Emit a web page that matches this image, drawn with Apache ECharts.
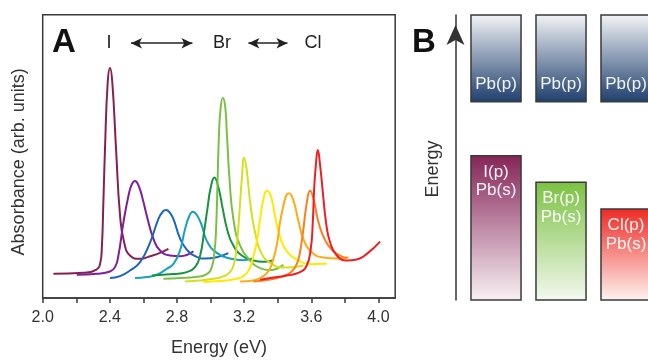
<!DOCTYPE html>
<html><head><meta charset="utf-8">
<script src="https://cdn.jsdelivr.net/npm/echarts@6/dist/echarts.min.js"></script>
<style>html,body{margin:0;padding:0;background:#fff}#c{width:648px;height:362px}</style>
</head><body><div id="c"></div>
<script>
const FONT = '"Liberation Sans", Arial, Helvetica, sans-serif';

// ---- Panel A data: absorbance spectra, [energy (eV), absorbance (arb. units)] ----
const xTickValues = [2.0, 2.2, 2.4, 2.6, 2.8, 3.0, 3.2, 3.4, 3.6, 3.8, 4.0];
const xLabelValues = [2.0, 2.4, 2.8, 3.2, 3.6, 4.0];
const curve1 = [[2.064,73],[2.242,76],[2.322,86],[2.342,103],[2.352,148],[2.362,298],[2.371,448],[2.387,648],[2.401,693],[2.415,648],[2.437,448],[2.461,248],[2.485,168],[2.520,128],[2.580,118],[2.640,126],[2.699,136],[2.749,148]];
const curve2 = [[2.203,70],[2.322,73],[2.401,80],[2.431,93],[2.451,128],[2.481,228],[2.511,308],[2.530,342],[2.550,353],[2.570,340],[2.596,298],[2.620,248],[2.660,178],[2.699,143],[2.759,128],[2.818,126],[2.898,141]];
const curve3 = [[2.401,60],[2.461,66],[2.520,83],[2.580,108],[2.640,168],[2.689,238],[2.715,260],[2.735,265],[2.759,256],[2.779,238],[2.818,180],[2.858,146],[2.908,126],[2.967,119],[3.037,123],[3.106,135]];
const curve4 = [[2.550,60],[2.620,63],[2.679,70],[2.739,88],[2.779,103],[2.818,143],[2.848,208],[2.874,248],[2.894,260],[2.918,250],[2.948,218],[2.977,173],[3.037,136],[3.116,119],[3.196,114],[3.255,120]];
const curve5 = [[2.650,68],[2.779,72],[2.858,78],[2.908,93],[2.938,128],[2.961,198],[2.981,268],[3.001,333],[3.023,363],[3.047,333],[3.073,268],[3.101,203],[3.136,158],[3.186,128],[3.255,113],[3.315,109],[3.375,114]];
const curve6 = [[2.719,58],[2.818,60],[2.918,64],[2.977,72],[3.007,93],[3.023,138],[3.033,208],[3.041,338],[3.049,478],[3.059,568],[3.073,603],[3.087,578],[3.097,498],[3.113,358],[3.136,238],[3.176,158],[3.236,113],[3.295,90],[3.355,84],[3.434,100]];
const curve7 = [[2.848,50],[2.938,53],[3.017,58],[3.077,65],[3.116,78],[3.140,103],[3.156,158],[3.172,258],[3.186,358],[3.200,423],[3.216,383],[3.236,288],[3.265,198],[3.305,133],[3.365,103],[3.434,92],[3.494,93],[3.553,98]];
const curve8 = [[2.957,48],[3.057,51],[3.136,56],[3.196,66],[3.232,88],[3.251,118],[3.275,168],[3.295,238],[3.315,298],[3.335,323],[3.359,308],[3.384,248],[3.418,178],[3.458,138],[3.514,116],[3.593,102],[3.693,103]];
const curve9 = [[3.176,50],[3.255,53],[3.315,66],[3.351,86],[3.371,113],[3.394,158],[3.414,228],[3.434,278],[3.450,308],[3.466,316],[3.494,293],[3.523,233],[3.553,178],[3.603,138],[3.673,122],[3.752,119],[3.822,123]];
const curve10 = [[3.255,50],[3.355,56],[3.434,66],[3.484,80],[3.514,103],[3.533,138],[3.553,208],[3.573,286],[3.593,323],[3.613,300],[3.633,250],[3.662,198],[3.702,158],[3.752,133],[3.812,120]];
const curve11 = [[3.295,55],[3.355,60],[3.454,68],[3.533,78],[3.573,98],[3.597,148],[3.609,228],[3.617,328],[3.627,398],[3.639,446],[3.653,398],[3.669,318],[3.688,228],[3.712,168],[3.752,128],[3.812,113],[3.871,116],[3.931,133],[4.010,170]];
const curves = [curve1, curve2, curve3, curve4, curve5, curve6, curve7, curve8, curve9, curve10, curve11];
const curveColors = ['#84214f','#7c1f9e','#1c64c0','#19a0bd','#17933f','#79c143','#d5df1d','#ffea00','#ffab14','#f9801f','#ee1f24'];
const halideArrows = [[[2.526,768],[2.892,768]], [[3.2255,768],[3.458,768]]];

// ---- Panel B data: energy-level boxes (arbitrary energy units) ----
const bandCategories = ['I', 'Br', 'Cl'];
const valenceBottom = [0, 0, 0];
const valenceTop = [50.6, 41.3, 31.9];
const conductionBottom = [69.6, 69.6, 69.6];
const conductionTop = [100, 100, 100];
const valenceLabels = ['I(p)\nPb(s)', 'Br(p)\nPb(s)', 'Cl(p)\nPb(s)'];
const conductionLabels = ['Pb(p)', 'Pb(p)', 'Pb(p)'];
const valenceColors = [['#852457','#f8f1f4'], ['#7bc142','#f4f9f0'], ['#ee2a24','#fef4ef']];
const conductionColors = [['#f4f4f7','#1d3e6c'], ['#f4f4f7','#1d3e6c'], ['#f4f4f7','#1d3e6c']];

const chart = echarts.init(document.getElementById('c'), null, {renderer: 'canvas'});

function boxRenderer(colors, labels, isValence) {
  return function (params, api) {
    const i = params.dataIndex;
    const pTop = api.coord([api.value(0), api.value(2)]);
    const pBot = api.coord([api.value(0), api.value(1)]);
    const w = api.size([1, 0])[0] * 0.77;
    const x = pTop[0] - w / 2;
    const grad = new echarts.graphic.LinearGradient(0, 0, 0, 1, [
      {offset: 0, color: colors[i][0]}, {offset: 1, color: colors[i][1]}]);
    return {type: 'group', children: [{
      type: 'rect',
      shape: {x: x, y: pTop[1], width: w, height: pBot[1] - pTop[1]},
      style: {fill: grad, stroke: '#3a3a3a', lineWidth: 1.5}
    }, {
      type: 'text',
      style: {
        text: labels[i],
        x: pTop[0],
        y: isValence ? pTop[1] + 7 : pBot[1] - 17,
        align: 'center',
        verticalAlign: isValence ? 'top' : 'middle',
        lineHeight: 18.5,
        fill: 'rgba(255,255,255,0.93)',
        font: '17px ' + FONT
      }
    }]};
  };
}

const lineSeries = curves.map((d, k) => ({
  type: 'line',
  xAxisIndex: 0, yAxisIndex: 0,
  data: d,
  showSymbol: false,
  smooth: 0.5,
  lineStyle: {color: curveColors[k], width: 2},
  silent: true,
  z: 2 + k
}));

lineSeries.push({
  type: 'line', xAxisIndex: 0, yAxisIndex: 0, data: [], silent: true,
  markLine: {
    silent: true,
    symbol: ['arrow', 'arrow'],
    symbolSize: [8, 11],
    label: {show: false},
    lineStyle: {color: '#222', width: 1.5, type: 'solid'},
    emphasis: {disabled: true},
    data: halideArrows.map(a => [{coord: a[0]}, {coord: a[1]}])
  }
});

const option = {
  animation: false,
  backgroundColor: '#fff',
  textStyle: {fontFamily: FONT},
  grid: [
    {left: 42.7, top: 14.7, width: 352.5, height: 284.6, show: true, borderColor: '#3a3a3a', borderWidth: 1.5, backgroundColor: 'transparent'},
    {left: 463.5, top: 15, right: 0, height: 285, show: false}
  ],
  xAxis: [
    {
      gridIndex: 0, type: 'value', min: 2.0, max: 4.1, interval: 0.2,
      name: 'Energy (eV)', nameLocation: 'middle', nameGap: 41,
      nameTextStyle: {fontSize: 18, color: '#333', fontFamily: FONT},
      axisLine: {show: true, lineStyle: {color: '#3a3a3a', width: 1.5}},
      axisTick: {show: true, inside: false, length: 5, lineStyle: {color: '#3a3a3a', width: 1.5}, customValues: xTickValues},
      axisLabel: {show: true, margin: 12, fontSize: 16, color: '#333', fontFamily: FONT, customValues: xLabelValues,
        formatter: v => v.toFixed(1)},
      splitLine: {show: false}
    },
    {
      // 65 px per band: grid width 184.5 px spans 184.5/65 = 2.838 bands
      gridIndex: 1, type: 'value', min: -0.5, max: 2.338, show: false
    }
  ],
  yAxis: [
    {
      gridIndex: 0, type: 'value', min: 0, max: 854,
      name: 'Absorbance (arb. units)', nameLocation: 'middle', nameGap: 15,
      nameTextStyle: {fontSize: 18, color: '#333', fontFamily: FONT, padding: [0, 11, 0, 0]},
      axisLine: {show: false}, axisTick: {show: false}, axisLabel: {show: false}, splitLine: {show: false}
    },
    {
      gridIndex: 1, type: 'value', min: 0, max: 100, offset: 8, position: 'left',
      name: 'Energy', nameLocation: 'middle', nameGap: 13,
      nameTextStyle: {fontSize: 18, color: '#333', fontFamily: FONT, padding: [0, 23, 0, 0]},
      axisLine: {show: true, onZero: false, symbol: ['none', 'arrow'], symbolSize: [13.5, 20], symbolOffset: [0, -10],
        lineStyle: {color: '#333', width: 1.5}},
      axisTick: {show: false}, axisLabel: {show: false}, splitLine: {show: false}
    }
  ],
  graphic: [
    {type: 'text', left: 52, top: 26, style: {text: 'A', font: 'bold 33px ' + FONT, fill: '#111'}},
    {type: 'text', left: 412, top: 26, style: {text: 'B', font: 'bold 33px ' + FONT, fill: '#111'}},
    {type: 'text', x: 109, y: 43, style: {text: 'I', font: '18px ' + FONT, fill: '#222', align: 'center', verticalAlign: 'middle'}},
    {type: 'text', x: 222, y: 43, style: {text: 'Br', font: '18px ' + FONT, fill: '#222', align: 'center', verticalAlign: 'middle'}},
    {type: 'text', x: 313, y: 43, style: {text: 'Cl', font: '18px ' + FONT, fill: '#222', align: 'center', verticalAlign: 'middle'}}
  ],
  series: lineSeries.concat([
    {
      type: 'custom', xAxisIndex: 1, yAxisIndex: 1, silent: true,
      renderItem: boxRenderer(valenceColors, valenceLabels, true),
      data: bandCategories.map((c, i) => [i, valenceBottom[i], valenceTop[i]])
    },
    {
      type: 'custom', xAxisIndex: 1, yAxisIndex: 1, silent: true,
      renderItem: boxRenderer(conductionColors, conductionLabels, false),
      data: bandCategories.map((c, i) => [i, conductionBottom[i], conductionTop[i]])
    }
  ])
};
chart.setOption(option);
</script>
</body></html>
